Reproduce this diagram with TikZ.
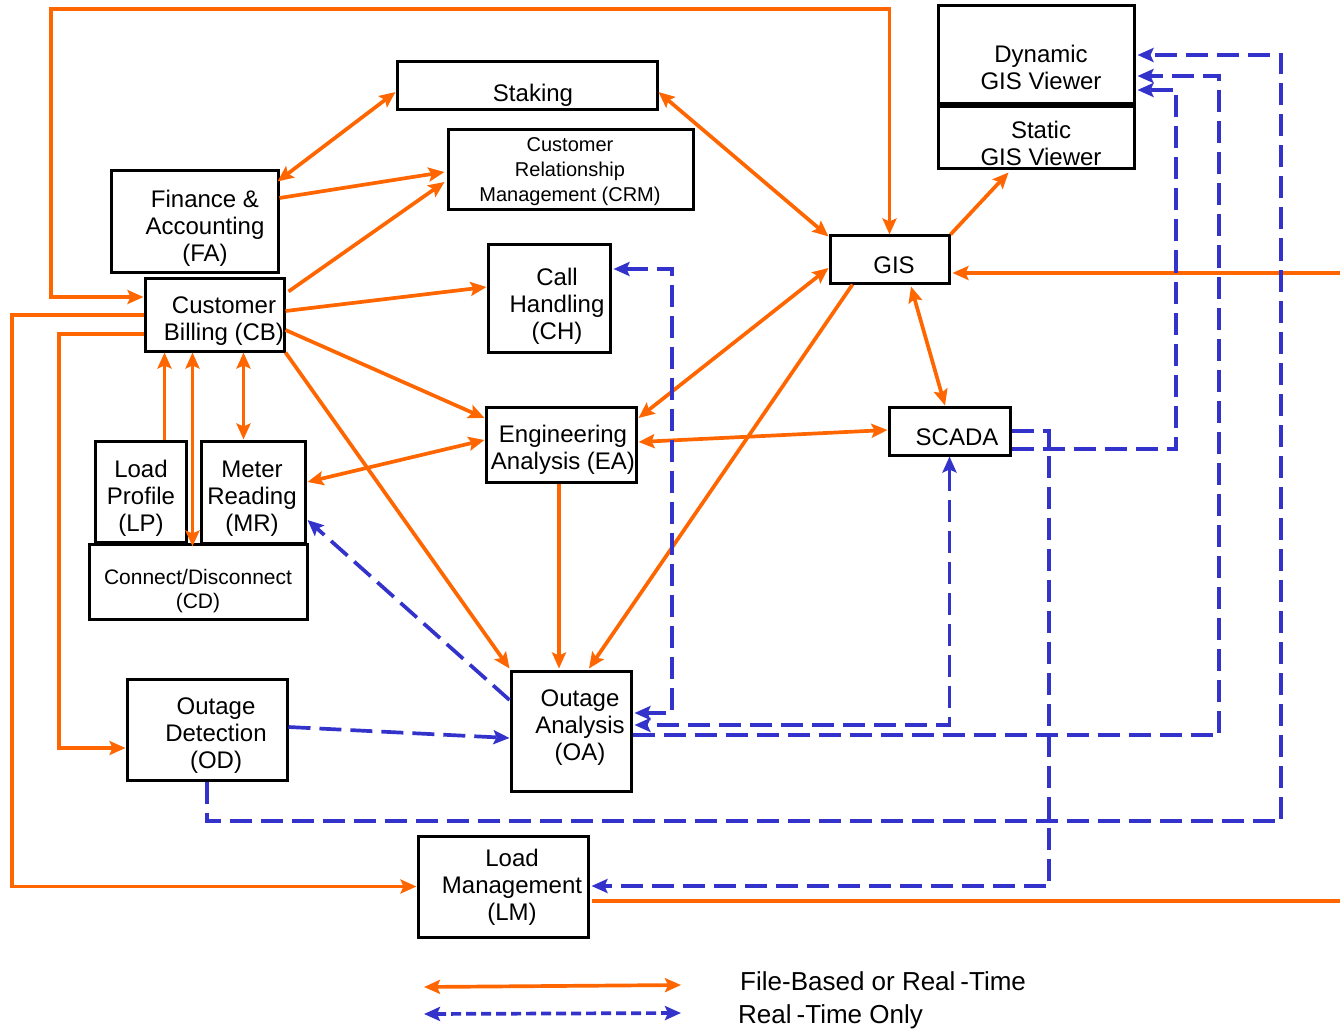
\documentclass[tikz,border=0pt]{standalone}
\usepackage{fontspec}
\setmainfont{Liberation Sans}
\usetikzlibrary{arrows.meta,calc}
\definecolor{flow}{RGB}{255,102,0}
\definecolor{rt}{RGB}{51,51,204}

\begin{document}
\begin{tikzpicture}[x=1pt,y=-1pt,
  >={Stealth[length=16pt,width=14pt,inset=3pt]},
  box/.style={draw=black, line width=3pt, rectangle, inner sep=0pt},
  txt/.style={align=center, inner sep=0pt, font=\fontsize{24}{27}\selectfont},
  smalltxt/.style={align=center, inner sep=0pt, font=\fontsize{20}{25}\selectfont},
  cdtxt/.style={align=center, inner sep=0pt, font=\fontsize{21}{24}\selectfont},
  keytxt/.style={anchor=west, inner sep=0pt, font=\fontsize{26}{29}\selectfont},
  filelink/.style={draw=flow, line width=3.7pt},
  rtlink/.style={draw=rt, line width=3.7pt, dash pattern=on 22pt off 9pt},
]
\useasboundingbox (0,0) rectangle (1340,1032);

% ---------- application boxes ----------
\node[box, minimum width=260pt, minimum height=48pt]  (stk)   at (527,86)     {};
\node[box, minimum width=245pt, minimum height=80pt]  (crm)   at (570.5,170)  {};
\node[box, minimum width=167pt, minimum height=101pt] (fa)    at (194.5,221.5){};
\node[box, minimum width=139pt, minimum height=73pt]  (cb)    at (214.5,314.5){};
\node[box, minimum width=122pt, minimum height=107pt] (ch)    at (549,298.5)  {};
\node[box, minimum width=119pt, minimum height=47pt]  (gis)   at (889.5,259.5){};
\node[box, minimum width=196pt, minimum height=98pt]  (dyn)   at (1036,55)    {};
\node[box, minimum width=196pt, minimum height=62pt]  (sta)   at (1036,138)   {};
\node[box, minimum width=121pt, minimum height=48pt]  (scada) at (949.5,431)  {};
\node[box, minimum width=150pt, minimum height=75pt]  (ea)    at (561,444.5)  {};
\node[box, minimum width=91pt,  minimum height=101pt] (lp)    at (140.5,491.5){};
\node[box, minimum width=104pt, minimum height=102pt] (mr)    at (253,492)    {};
\node[box, minimum width=218pt, minimum height=75pt]  (cd)    at (198,581.5)  {};
\node[box, minimum width=160pt, minimum height=101pt] (od)    at (207,729.5)  {};
\node[box, minimum width=120pt, minimum height=120pt] (oa)    at (571,731)    {};
\node[box, minimum width=170pt, minimum height=101pt] (lm)    at (503,886.5)  {};

% ---------- box captions ----------
\node[txt]      (stk-t)   at (533,95)   {Staking};
\node[smalltxt] (crm-t)   at (570,172)  {Customer\\Relationship\\Management (CRM)};
\node[txt]      (fa-t)    at (205,228)  {Finance \&\\Accounting\\(FA)};
\node[txt]      (cb-t)    at (224,321)  {Customer\\Billing (CB)};
\node[txt]      (ch-t)    at (557,306)  {Call\\Handling\\(CH)};
\node[txt]      (gis-t)   at (894,265)  {GIS};
\node[txt]      (dyn-t)   at (1041,67)  {Dynamic\\GIS Viewer};
\node[txt]      (sta-t)   at (1041,143) {Static\\GIS Viewer};
\node[txt]      (scada-t) at (957,437)  {SCADA};
\node[txt]      (ea-t)    at (563,450)  {Engineering\\Analysis (EA)};
\node[txt]      (lp-t)    at (141,498)  {Load\\Profile\\(LP)};
\node[txt]      (mr-t)    at (252,499)  {Meter\\Reading\\(MR)};
\node[cdtxt]    (cd-t)    at (198,591)  {Connect/Disconnect\\(CD)};
\node[txt]      (od-t)    at (216,736)  {Outage\\Detection\\(OD)};
\node[txt]      (oa-t)    at (580,728)  {Outage\\Analysis\\(OA)};
\node[txt]      (lm-t)    at (512,887)  {Load\\Management\\(LM)};

% ---------- free ends at the right margin ----------
\coordinate (gisIn) at (1340,273);
\coordinate (lmOut) at (1340,901);

% ---------- file-based or real-time links ----------
\draw[filelink,<->] ($(cb.west)+(0,-17.5)$) -| (51,9) -| (gis.north);
\draw[filelink,<->] ($(fa.north east)+(-2,12)$) -- ($(stk.west)+(0,6)$);
\draw[filelink,->]  ($(fa.east)+(0,-23.5)$) -- ($(crm.west)+(-2,2)$);
\draw[filelink,->]  ($(cb.north east)+(3,15)$) -- ($(crm.west)+(-2,12)$);
\draw[filelink,->]  ($(cb.east)+(0,-3.5)$) -- ($(ch.west)+(0,-11.5)$);
\draw[filelink,->]  ($(cb.east)+(0,15.5)$) -- ($(ea.west)+(0,-26.5)$);
\draw[filelink,->]  (cb.south east) -- ($(oa.north west)+(0,-1)$);
\draw[filelink,->]  ($(cb.west)+(0,0.5)$) -- (12,315) |- (lm.west);
\draw[filelink,->]  ($(cb.west)+(0,19.5)$) -- (59,334) |- ($(od.west)+(0,18.5)$);
\draw[filelink,->]  ($(lp.north west)+(71,0)$) -- ($(cb.south west)+(21,0)$);
\draw[filelink,<->] ($(cb.south west)+(49,0)$) -- ($(cd.north west)+(105,4)$);
\draw[filelink,<->] ($(cb.south west)+(100,0)$) -- ($(mr.north west)+(44,0)$);
\draw[filelink,<->] ($(ea.west)+(0,-4.5)$) -- ($(mr.east)+(1,-10)$);
\draw[filelink,<->] ($(stk.east)+(0,6)$) -- ($(gis.north west)+(0,2)$);
\draw[filelink,<->] ($(ea.east)+(1,-26.5)$) -- ($(gis.west)+(0,8.5)$);
\draw[filelink,->]  ($(gis.south west)+(24,0)$) -- ($(oa.north)+(18,-1)$);
\draw[filelink,->]  ($(ea.south)+(-2,0)$) -- ($(oa.north)+(-12,-1)$);
\draw[filelink,->]  (gis.north east) -- ($(sta.south west)+(72,2)$);
\draw[filelink,<->] ($(gis.south)+(21.5,2)$) -- ($(scada.north)+(-4.5,0)$);
\draw[filelink,<->] ($(ea.east)+(1,-2.5)$) -- ($(scada.west)+(0,-1)$);
\draw[filelink,->]  (gisIn) -- ($(gis.east)+(2,13.5)$);
\draw[filelink]     ($(lm.east)+(2,14.5)$) -- (lmOut);

% ---------- real-time only links ----------
\draw[rtlink,<->] ($(ch.east)+(2,-29.5)$) -- (672,269) |- ($(oa.east)+(2,-18)$);
\draw[rtlink,<->] (scada.south) |- ($(oa.east)+(2,-6)$);
\draw[rtlink,->]  ($(oa.east)+(0,4)$) -- (1219,735) |- ($(dyn.east)+(2,21)$);
\draw[rtlink,->]  ($(scada.east)+(0,18)$) -- (1176,449) |- ($(dyn.east)+(2,35)$);
\draw[rtlink,->]  (scada.east) -- (1049,431) |- ($(lm.east)+(2,-0.5)$);
\draw[rtlink,->]  (od.south) |- (1281,821) |- ($(dyn.east)+(2,0)$);
\draw[rtlink,->]  ($(od.east)+(0,-2.5)$) -- ($(oa.west)+(0,7)$);
\draw[rtlink,->]  ($(oa.west)+(0,-31)$) -- ($(mr.east)+(1,28)$);

% ---------- key ----------
\coordinate (k1a) at (424,987);
\coordinate (k1b) at (681,985);
\coordinate (k2a) at (424,1014);
\coordinate (k2b) at (681,1013);
\draw[filelink,<->] (k1a) -- (k1b);
\draw[rtlink,<->,dash pattern=on 10pt off 5pt] (k2a) -- (k2b);
\node[keytxt] (key1) at (740,981)  {File-Based or Real\hspace{5pt}-Time};
\node[keytxt] (key2) at (738,1017) {Real\hspace{5pt}-Time Only};
\end{tikzpicture}
\end{document}
